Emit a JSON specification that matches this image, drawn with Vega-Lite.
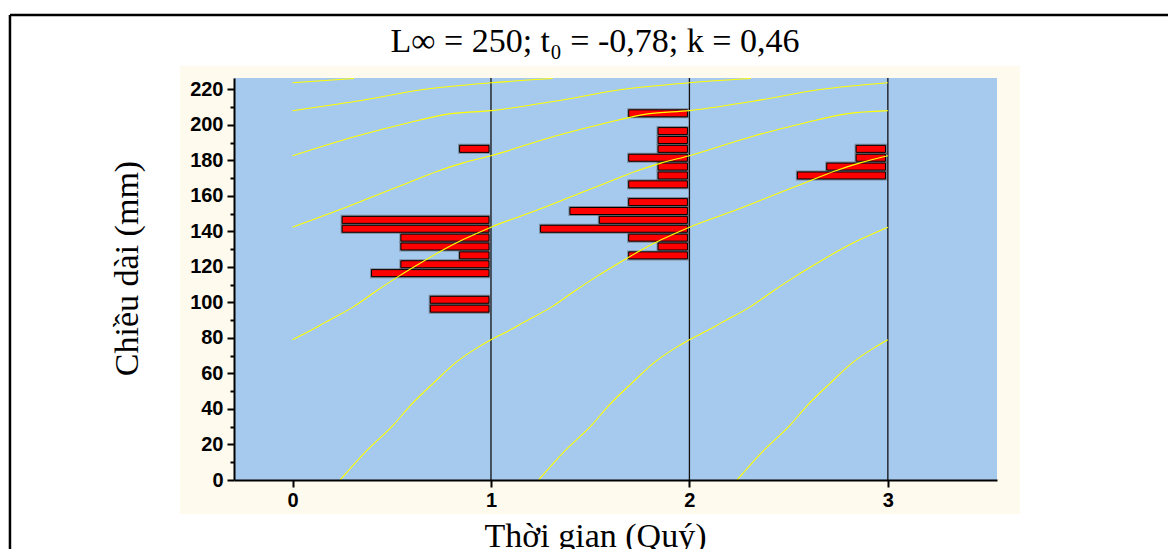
{
  "$schema": "https://vega.github.io/schema/vega-lite/v6.json",
  "autosize": {"type": "none"},
  "width": 763,
  "height": 402,
  "padding": {"left": 234, "top": 78, "right": 171, "bottom": 69},
  "background": "white",
  "datasets": {
    "bars": [
      {"sample": 1, "length": 186.5, "start": 0.842, "end": 0.99},
      {"sample": 1, "length": 146.5, "start": 0.25, "end": 0.99},
      {"sample": 1, "length": 141.5, "start": 0.25, "end": 0.99},
      {"sample": 1, "length": 136.5, "start": 0.546, "end": 0.99},
      {"sample": 1, "length": 131.5, "start": 0.546, "end": 0.99},
      {"sample": 1, "length": 126.5, "start": 0.842, "end": 0.99},
      {"sample": 1, "length": 121.5, "start": 0.546, "end": 0.99},
      {"sample": 1, "length": 116.5, "start": 0.398, "end": 0.99},
      {"sample": 1, "length": 101.5, "start": 0.694, "end": 0.99},
      {"sample": 1, "length": 96.5, "start": 0.694, "end": 0.99},
      {"sample": 2, "length": 206.5, "start": 1.694, "end": 1.99},
      {"sample": 2, "length": 196.5, "start": 1.842, "end": 1.99},
      {"sample": 2, "length": 191.5, "start": 1.842, "end": 1.99},
      {"sample": 2, "length": 186.5, "start": 1.842, "end": 1.99},
      {"sample": 2, "length": 181.5, "start": 1.694, "end": 1.99},
      {"sample": 2, "length": 176.5, "start": 1.842, "end": 1.99},
      {"sample": 2, "length": 171.5, "start": 1.842, "end": 1.99},
      {"sample": 2, "length": 166.5, "start": 1.694, "end": 1.99},
      {"sample": 2, "length": 156.5, "start": 1.694, "end": 1.99},
      {"sample": 2, "length": 151.5, "start": 1.398, "end": 1.99},
      {"sample": 2, "length": 146.5, "start": 1.546, "end": 1.99},
      {"sample": 2, "length": 141.5, "start": 1.25, "end": 1.99},
      {"sample": 2, "length": 136.5, "start": 1.694, "end": 1.99},
      {"sample": 2, "length": 131.5, "start": 1.842, "end": 1.99},
      {"sample": 2, "length": 126.5, "start": 1.694, "end": 1.99},
      {"sample": 3, "length": 186.5, "start": 2.84, "end": 2.988},
      {"sample": 3, "length": 181.5, "start": 2.84, "end": 2.988},
      {"sample": 3, "length": 176.5, "start": 2.692, "end": 2.988},
      {"sample": 3, "length": 171.5, "start": 2.544, "end": 2.988}
    ],
    "samples": [{"t": 1}, {"t": 2}, {"t": 3}],
    "curves": [
      {"cohort": "c5", "t": 0, "L": 223.7},
      {"cohort": "c5", "t": 0.31, "L": 226.1},
      {"cohort": "c4", "t": 0, "L": 208.0},
      {"cohort": "c4", "t": 0.32, "L": 213.3},
      {"cohort": "c4", "t": 0.66, "L": 219.9},
      {"cohort": "c4", "t": 1.0, "L": 223.7},
      {"cohort": "c4", "t": 1.31, "L": 226.1},
      {"cohort": "c3", "t": 0, "L": 182.6},
      {"cohort": "c3", "t": 0.32, "L": 193.6},
      {"cohort": "c3", "t": 0.58, "L": 201.1},
      {"cohort": "c3", "t": 0.79, "L": 206.2},
      {"cohort": "c3", "t": 1.0, "L": 208.0},
      {"cohort": "c3", "t": 1.32, "L": 213.3},
      {"cohort": "c3", "t": 1.66, "L": 219.9},
      {"cohort": "c3", "t": 2.0, "L": 223.7},
      {"cohort": "c3", "t": 2.31, "L": 226.1},
      {"cohort": "c2", "t": 0, "L": 142.4},
      {"cohort": "c2", "t": 0.24, "L": 152.3},
      {"cohort": "c2", "t": 0.41, "L": 159.8},
      {"cohort": "c2", "t": 0.58, "L": 167.3},
      {"cohort": "c2", "t": 0.73, "L": 173.9},
      {"cohort": "c2", "t": 0.86, "L": 178.6},
      {"cohort": "c2", "t": 1.0, "L": 182.6},
      {"cohort": "c2", "t": 1.32, "L": 193.6},
      {"cohort": "c2", "t": 1.58, "L": 201.1},
      {"cohort": "c2", "t": 1.79, "L": 206.2},
      {"cohort": "c2", "t": 2.0, "L": 208.0},
      {"cohort": "c2", "t": 2.32, "L": 213.3},
      {"cohort": "c2", "t": 2.66, "L": 219.9},
      {"cohort": "c2", "t": 3.0, "L": 223.7},
      {"cohort": "c1", "t": 0, "L": 79.0},
      {"cohort": "c1", "t": 0.1, "L": 84.7},
      {"cohort": "c1", "t": 0.16, "L": 88.5},
      {"cohort": "c1", "t": 0.31, "L": 97.8},
      {"cohort": "c1", "t": 0.42, "L": 106.3},
      {"cohort": "c1", "t": 0.53, "L": 114.4},
      {"cohort": "c1", "t": 0.66, "L": 123.2},
      {"cohort": "c1", "t": 0.76, "L": 129.7},
      {"cohort": "c1", "t": 0.86, "L": 135.4},
      {"cohort": "c1", "t": 1.0, "L": 142.4},
      {"cohort": "c1", "t": 1.24, "L": 152.3},
      {"cohort": "c1", "t": 1.41, "L": 159.8},
      {"cohort": "c1", "t": 1.58, "L": 167.3},
      {"cohort": "c1", "t": 1.73, "L": 173.9},
      {"cohort": "c1", "t": 1.86, "L": 178.6},
      {"cohort": "c1", "t": 2.0, "L": 182.6},
      {"cohort": "c1", "t": 2.32, "L": 193.6},
      {"cohort": "c1", "t": 2.58, "L": 201.1},
      {"cohort": "c1", "t": 2.79, "L": 206.2},
      {"cohort": "c1", "t": 3.0, "L": 208.0},
      {"cohort": "c0", "t": 0.24, "L": 0},
      {"cohort": "c0", "t": 0.37, "L": 16.1},
      {"cohort": "c0", "t": 0.51, "L": 31.2},
      {"cohort": "c0", "t": 0.59, "L": 41.5},
      {"cohort": "c0", "t": 0.71, "L": 54.6},
      {"cohort": "c0", "t": 0.83, "L": 66.8},
      {"cohort": "c0", "t": 0.93, "L": 74.4},
      {"cohort": "c0", "t": 1.0, "L": 79.0},
      {"cohort": "c0", "t": 1.1, "L": 84.7},
      {"cohort": "c0", "t": 1.16, "L": 88.5},
      {"cohort": "c0", "t": 1.31, "L": 97.8},
      {"cohort": "c0", "t": 1.42, "L": 106.3},
      {"cohort": "c0", "t": 1.53, "L": 114.4},
      {"cohort": "c0", "t": 1.66, "L": 123.2},
      {"cohort": "c0", "t": 1.76, "L": 129.7},
      {"cohort": "c0", "t": 1.86, "L": 135.4},
      {"cohort": "c0", "t": 2.0, "L": 142.4},
      {"cohort": "c0", "t": 2.24, "L": 152.3},
      {"cohort": "c0", "t": 2.41, "L": 159.8},
      {"cohort": "c0", "t": 2.58, "L": 167.3},
      {"cohort": "c0", "t": 2.73, "L": 173.9},
      {"cohort": "c0", "t": 2.86, "L": 178.6},
      {"cohort": "c0", "t": 3.0, "L": 182.6},
      {"cohort": "cm1", "t": 1.24, "L": 0},
      {"cohort": "cm1", "t": 1.37, "L": 16.1},
      {"cohort": "cm1", "t": 1.51, "L": 31.2},
      {"cohort": "cm1", "t": 1.59, "L": 41.5},
      {"cohort": "cm1", "t": 1.71, "L": 54.6},
      {"cohort": "cm1", "t": 1.83, "L": 66.8},
      {"cohort": "cm1", "t": 1.93, "L": 74.4},
      {"cohort": "cm1", "t": 2.0, "L": 79.0},
      {"cohort": "cm1", "t": 2.1, "L": 84.7},
      {"cohort": "cm1", "t": 2.16, "L": 88.5},
      {"cohort": "cm1", "t": 2.31, "L": 97.8},
      {"cohort": "cm1", "t": 2.42, "L": 106.3},
      {"cohort": "cm1", "t": 2.53, "L": 114.4},
      {"cohort": "cm1", "t": 2.66, "L": 123.2},
      {"cohort": "cm1", "t": 2.76, "L": 129.7},
      {"cohort": "cm1", "t": 2.86, "L": 135.4},
      {"cohort": "cm1", "t": 3.0, "L": 142.4},
      {"cohort": "cm2", "t": 2.24, "L": 0},
      {"cohort": "cm2", "t": 2.37, "L": 16.1},
      {"cohort": "cm2", "t": 2.51, "L": 31.2},
      {"cohort": "cm2", "t": 2.59, "L": 41.5},
      {"cohort": "cm2", "t": 2.71, "L": 54.6},
      {"cohort": "cm2", "t": 2.83, "L": 66.8},
      {"cohort": "cm2", "t": 2.93, "L": 74.4},
      {"cohort": "cm2", "t": 3.0, "L": 79.0}
    ]
  },
  "layer": [
    {
      "data": {"values": [{}]},
      "mark": {"type": "rect", "fill": "#FFFAEE", "clip": false},
      "encoding": {
        "x": {"datum": -0.567, "type": "quantitative"},
        "x2": {"datum": 3.666},
        "y": {"datum": 233.3, "type": "quantitative"},
        "y2": {"datum": -19.1}
      }
    },
    {
      "data": {"values": [{}]},
      "mark": {"type": "rect", "fill": "#A6C9EE", "clip": false},
      "encoding": {
        "x": {"datum": -0.295, "type": "quantitative"},
        "x2": {"datum": 3.55},
        "y": {"datum": 0, "type": "quantitative"},
        "y2": {"datum": 226.4}
      }
    },
    {
      "data": {"values": [{}]},
      "mark": {"type": "rule", "color": "black", "strokeWidth": 2.5, "clip": false},
      "encoding": {
        "x": {"datum": -1.424, "type": "quantitative"},
        "x2": {"datum": 4.472},
        "y": {"datum": 261.9, "type": "quantitative"}
      }
    },
    {
      "data": {"values": [{}]},
      "mark": {"type": "rule", "color": "black", "strokeWidth": 2.5, "clip": false},
      "encoding": {
        "x": {"datum": -1.424, "type": "quantitative"},
        "y": {"datum": 261.9, "type": "quantitative"},
        "y2": {"datum": -45}
      }
    },
    {
      "data": {"values": [{}]},
      "mark": {"type": "text", "text": "L∞ = 250; t₀ = -0,78; k = 0,46", "font": "Liberation Serif", "fontSize": 34, "color": "black", "align": "center", "baseline": "alphabetic", "clip": false},
      "encoding": {
        "x": {"datum": 1.524, "type": "quantitative"},
        "y": {"datum": 241.0, "type": "quantitative"}
      }
    },
    {
      "data": {"name": "samples"},
      "mark": {"type": "rule", "color": "#111111", "strokeWidth": 1.3},
      "encoding": {
        "x": {"field": "t", "type": "quantitative"}
      }
    },
    {
      "data": {"name": "bars"},
      "mark": {"type": "bar", "orient": "horizontal", "size": 7, "fill": "#555555", "stroke": "#555555", "strokeWidth": 3, "opacity": 0.55},
      "encoding": {
        "x": {"field": "start", "type": "quantitative"},
        "x2": {"field": "end"},
        "y": {"field": "length", "type": "quantitative"}
      }
    },
    {
      "data": {"name": "bars"},
      "mark": {"type": "bar", "orient": "horizontal", "size": 7, "fill": "#FF0000", "stroke": "black", "strokeWidth": 1},
      "encoding": {
        "x": {"field": "start", "type": "quantitative"},
        "x2": {"field": "end"},
        "y": {"field": "length", "type": "quantitative"}
      }
    },
    {
      "data": {"name": "curves"},
      "mark": {"type": "line", "color": "#FFFF00", "strokeWidth": 1.1, "interpolate": "monotone", "clip": true},
      "encoding": {
        "x": {"field": "t", "type": "quantitative"},
        "y": {"field": "L", "type": "quantitative"},
        "detail": {"field": "cohort"}
      }
    }
  ],
  "encoding": {
    "x": {
      "type": "quantitative",
      "scale": {"domain": [-0.295, 3.55], "nice": false, "zero": false, "padding": 0},
      "axis": {
        "zindex": 2,
        "title": "Thời gian (Quý)",
        "values": [0, 0.5, 1, 1.5, 2, 2.5, 3, 3.5],
        "format": "d",
        "labelExpr": "datum.value % 1 === 0 ? datum.label : ''",
        "tickSize": 7,
        "labelPadding": 3,
        "titleX": 361,
        "titleY": 66,
        "titleAlign": "center",
        "titleBaseline": "alphabetic"
      }
    },
    "y": {
      "type": "quantitative",
      "scale": {"domain": [0, 226.4], "nice": false, "zero": false, "padding": 0},
      "axis": {
        "zindex": 2,
        "title": "Chiều dài (mm)",
        "values": [0, 10, 20, 30, 40, 50, 60, 70, 80, 90, 100, 110, 120, 130, 140, 150, 160, 170, 180, 190, 200, 210, 220],
        "format": "d",
        "labelExpr": "datum.value % 20 === 0 ? datum.label : ''",
        "tickSize": {"condition": {"test": "datum.value % 20 === 0", "value": 7}, "value": 4},
        "labelPadding": 4,
        "titleAngle": -90,
        "titleX": -97,
        "titleY": 190,
        "titleAlign": "center",
        "titleBaseline": "alphabetic"
      }
    }
  },
  "config": {
    "view": {"stroke": null},
    "axis": {
      "grid": false,
      "domainColor": "black",
      "domainWidth": 2,
      "tickColor": "black",
      "tickWidth": 2,
      "labelFont": "Liberation Sans",
      "labelFontWeight": "bold",
      "labelFontSize": 20,
      "labelColor": "black",
      "titleFont": "Liberation Serif",
      "titleFontSize": 34,
      "titleFontWeight": "normal",
      "titleColor": "black"
    }
  }
}
